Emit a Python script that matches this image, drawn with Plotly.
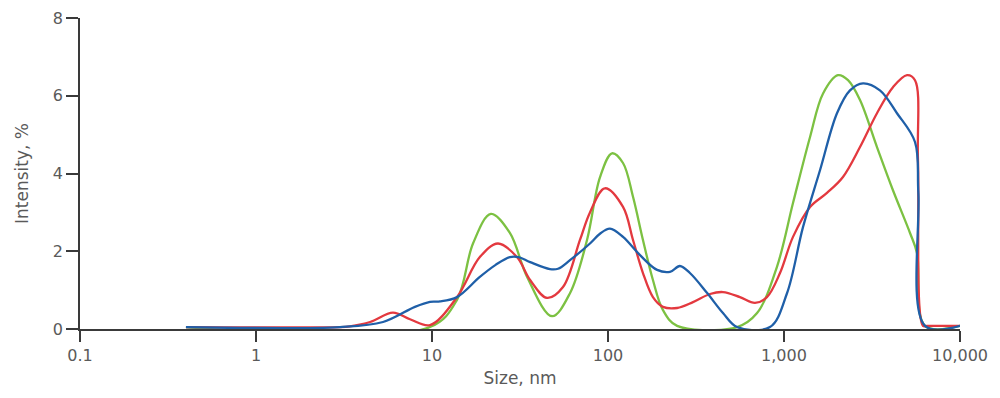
import plotly.graph_objects as go

# Size (nm) and intensity (%)
blue_x = [0.4, 3.0, 5.27, 8.0, 9.74, 11.1, 13.87, 18.7, 23.0, 27.7, 31.0, 36.1, 46.8, 52.0, 60.8, 79, 90, 102.6, 121.7, 152, 190, 225, 256, 292, 365, 450, 541, 832, 1040, 1282, 1603, 2000, 2371, 2810, 3508, 4385, 5550, 5800, 6330, 10000]
blue_y = [0.05, 0.05, 0.18, 0.57, 0.7, 0.71, 0.82, 1.34, 1.65, 1.85, 1.85, 1.72, 1.54, 1.55, 1.77, 2.2, 2.45, 2.58, 2.37, 1.9, 1.52, 1.47, 1.62, 1.44, 0.93, 0.41, 0.05, 0.05, 0.92, 2.62, 4.09, 5.55, 6.14, 6.32, 6.14, 5.55, 4.81, 3.5, 0.08, 0.08]

red_x = [0.4, 3.0, 3.42, 4.45, 6.0, 7.5, 9.74, 13.87, 18.7, 23.7, 30.4, 36.1, 45, 55.5, 69.3, 79, 96, 121.7, 138.7, 158, 180, 205, 247, 304, 380, 450, 562, 684, 800, 949, 1125, 1406, 1755, 2163, 2703, 3375, 4160, 5000, 5550, 5770, 6165, 6500, 10000]
red_y = [0.05, 0.05, 0.07, 0.18, 0.42, 0.25, 0.1, 0.82, 1.85, 2.2, 1.85, 1.26, 0.8, 1.08, 2.29, 3.0, 3.62, 3.14, 2.29, 1.44, 0.82, 0.57, 0.54, 0.69, 0.9, 0.95, 0.82, 0.67, 0.82, 1.44, 2.37, 3.14, 3.5, 3.91, 4.68, 5.55, 6.22, 6.53, 6.4, 4.34, 0.08, 0.08, 0.08]

green_x = [0.4, 9.74, 13.87, 17.1, 21.6, 27.7, 34.7, 48.1, 60.8, 76, 90, 105.4, 121.7, 138.7, 158, 180, 205, 247, 541, 703, 912, 1125, 1406, 1667, 2028, 2311, 2703, 3375, 4160, 5200, 5700, 6330, 10000]
green_y = [0.05, 0.05, 0.75, 2.2, 2.96, 2.47, 1.34, 0.33, 0.92, 2.29, 3.9, 4.52, 4.27, 3.4, 2.29, 1.26, 0.49, 0.08, 0.05, 0.41, 1.6, 3.24, 4.94, 6.06, 6.53, 6.4, 5.89, 4.68, 3.57, 2.47, 1.95, 0.08, 0.08]

x_tickvals = [0.1, 1, 10, 100, 1000, 10000]
x_ticktext = ["0.1", "1", "10", "100", "1,000", "10,000"]
y_tickvals = [0, 2, 4, 6, 8]

fig = go.Figure()
for xs, ys, col in [(green_x, green_y, "#7cc142"), (red_x, red_y, "#e3393f"), (blue_x, blue_y, "#1f5fa8")]:
    fig.add_trace(go.Scatter(x=xs, y=ys, mode="lines",
                             line=dict(color=col, width=2.3, shape="spline", smoothing=1.0),
                             showlegend=False, hoverinfo="skip"))

tick_font = dict(family="DejaVu Sans, sans-serif", size=16, color="#5a5a5a")
title_font = dict(family="DejaVu Sans, sans-serif", size=17, color="#5a5a5a")
# page body has an 8px margin, so the figure is sized to fit inside the window
fig.update_layout(
    width=984, height=382,
    margin=dict(l=72, r=32, t=10, b=61),
    paper_bgcolor="white", plot_bgcolor="white",
    font=tick_font,
)
fig.update_xaxes(type="log", range=[-1, 4], tickvals=x_tickvals, ticktext=x_ticktext,
                 automargin=False,
                 showgrid=False, zeroline=False, showline=True, linecolor="#3a3a3a", linewidth=1.5,
                 ticks="outside", ticklen=11, tickwidth=1.5, tickcolor="#3a3a3a",
                 title=dict(text="Size, nm", font=title_font, standoff=8), tickfont=tick_font)
fig.update_yaxes(range=[0, 8], tickvals=y_tickvals, automargin=False,
                 showgrid=False, zeroline=False,
                 showline=True, linecolor="#3a3a3a", linewidth=1.5,
                 ticks="outside", ticklen=12, tickwidth=1.5, tickcolor="#3a3a3a",
                 title=dict(text="Intensity, %", font=title_font, standoff=20), tickfont=tick_font)

fig.write_html("out.html")
